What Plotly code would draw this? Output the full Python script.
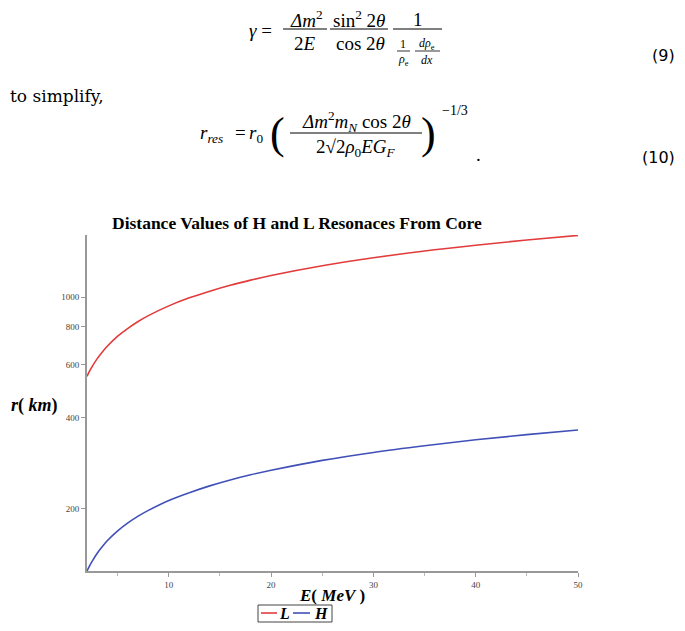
import numpy as np
import plotly.graph_objects as go

# values
energy = [2, 2.25, 2.5, 3, 3.5, 4, 5, 6, 7, 8, 10, 12, 14, 16, 18, 20, 25, 30, 35, 40, 45, 50]
r_L = [548, 570, 590, 627, 660, 690, 744, 790, 832, 870, 937, 996, 1048, 1096, 1140, 1181,
       1272, 1351, 1423, 1487, 1547, 1602]
r_H = [124.5, 129.5, 134, 142.5, 150, 157, 169, 179.5, 189, 197.5, 213, 226, 238, 249, 259, 268,
       289, 307, 323, 338, 351.5, 364]
x_ticks = [10, 20, 30, 40, 50]
y_ticks = [200, 400, 600, 800, 1000]

RED = "#e23b3b"
BLUE = "#4050b8"

# plot area in page pixels; the page body adds an 8px margin all round,
# so the figure is kept small enough to fit the window without scrolling
PAGE_OFF = 8
L0, R0, T0, B0 = 87, 578, 235, 571
FIG_W, FIG_H = 685 - 2 * PAGE_OFF, 631 - 2 * PAGE_OFF


def px(x):
    return (x - L0) / (R0 - L0)


def py(y):
    return (B0 - y) / (B0 - T0)


SERIF = "Liberation Serif"

fig = go.Figure()
fig.add_trace(go.Scatter(x=energy, y=r_L, mode="lines", name="L",
                         line=dict(color=RED, width=1.6, shape="spline")))
fig.add_trace(go.Scatter(x=energy, y=r_H, mode="lines", name="H",
                         line=dict(color=BLUE, width=1.6, shape="spline")))

ann = []


def text(x, y, s, size=19, family=SERIF, xanchor="center", color="black"):
    ann.append(dict(x=px(x), y=py(y), xref="paper", yref="paper", text=s, showarrow=False,
                    xanchor=xanchor, yanchor="middle",
                    font=dict(family=family, size=size, color=color)))


shapes = []


def bar(x0, x1, y, w=1, color="black"):
    shapes.append(dict(type="line", xref="paper", yref="paper",
                       x0=px(x0), x1=px(x1), y0=py(y), y1=py(y),
                       line=dict(color=color, width=w)))


# equation (9)
text(260, 31, "<i>γ</i> =")
text(306, 19, "<i>Δm</i><sup>2</sup>")
bar(283, 327, 29)
text(305, 43, "2<i>E</i>")
text(359, 19, "sin<sup>2</sup> 2<i>θ</i>")
bar(330, 388, 29)
text(360, 43, "cos 2<i>θ</i>")
text(418, 19, "1")
bar(393, 442, 29)
text(403, 44, "1", size=12)
bar(397, 410, 51, 0.8)
text(403, 59.5, "<i>ρ</i><sub>e</sub>", size=12)
text(427, 44, "<i>dρ</i><sub>e</sub>", size=12)
bar(415, 440, 51, 0.8)
text(427, 59.5, "<i>dx</i>", size=12)
text(677, 56, "(9)", size=16, family="DejaVu Sans", xanchor="right")

text(8, 96, "to simplify,", size=17, family="DejaVu Serif", xanchor="left")

# equation (10)
text(211, 134, "<i>r</i><sub><i>res</i></sub>")
text(240, 133, "=")
text(256, 134, "<i>r</i><sub>0</sub>")
text(277, 134, "(", size=44)
text(356, 121, "<i>Δm</i><sup>2</sup><i>m</i><sub><i>N</i></sub> cos 2<i>θ</i>")
bar(290, 422, 133)
text(356, 148, "2√2<i>ρ</i><sub>0</sub><i>EG</i><sub><i>F</i></sub>")
text(428, 134, ")", size=44)
text(455, 110, "−1/3", size=14)
text(478, 154, ".", size=19)
text(677, 158, "(10)", size=16, family="DejaVu Sans", xanchor="right")

# chart titles
text(297, 223, "<b>Distance Values of H and L Resonaces From Core</b>", size=17.5)
text(34, 405, "<b><i>r</i>( <i>km</i>)</b>", size=18)
text(332, 595, "<b><i>E</i>( <i>MeV</i> )</b>", size=17)

# compact legend box
shapes.append(dict(type="rect", xref="paper", yref="paper",
                   x0=px(258), x1=px(332), y0=py(605), y1=py(622),
                   line=dict(color="#444", width=1), fillcolor="white"))
bar(261, 277, 613, 1.6, RED)
text(284, 613, "<b><i>L</i></b>", size=16)
bar(293, 310, 613, 1.6, BLUE)
text(321, 613, "<b><i>H</i></b>", size=16)

fig.update_layout(
    width=FIG_W, height=FIG_H,
    margin=dict(l=L0 - PAGE_OFF, r=FIG_W - (R0 - PAGE_OFF), t=T0 - PAGE_OFF,
                b=FIG_H - (B0 - PAGE_OFF), autoexpand=False),
    paper_bgcolor="white", plot_bgcolor="white",
    annotations=ann, shapes=shapes,
    showlegend=False,
)
axis_style = dict(showgrid=False, zeroline=False, showline=True, linecolor="#999", linewidth=2,
                  ticks="outside", ticklen=4, tickcolor="#999",
                  tickfont=dict(family=SERIF, size=9, color="#444"))
fig.update_xaxes(range=[2, 50], tickvals=x_ticks,
                 minor=dict(dtick=5, ticks="outside", ticklen=3, tickcolor="#bbb"),
                 **axis_style)
fig.update_yaxes(type="log", range=[np.log10(124.5), np.log10(1607)], tickvals=y_ticks,
                 **axis_style)

fig.write_html("out.html")
